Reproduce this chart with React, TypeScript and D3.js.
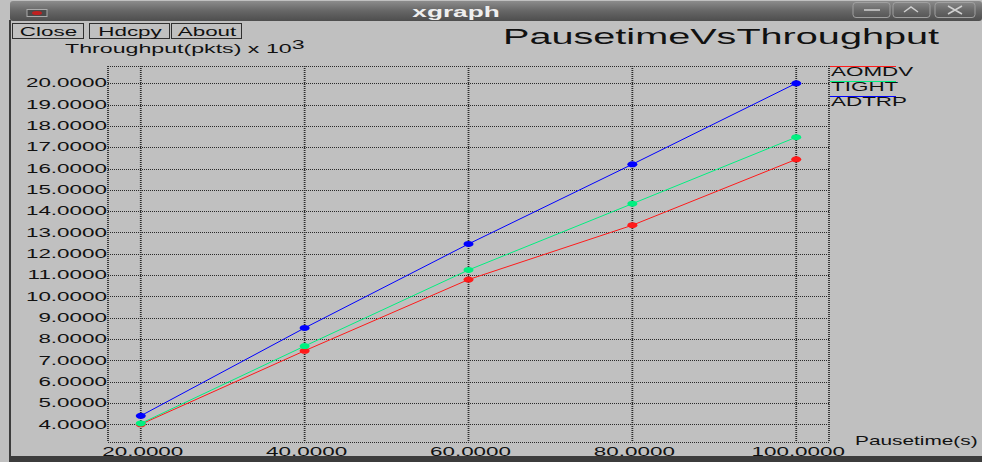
import React from "react";
import * as d3 from "d3";

const pauseTimes = [20, 40, 60, 80, 100];
const aomdv = [4.0, 7.45, 10.79, 13.34, 16.43];
const tight = [4.04, 7.67, 11.24, 14.35, 17.47];
const adtrp = [4.4, 8.52, 12.46, 16.2, 20.0];
const seriesNames = ["AOMDV", "TIGHT", "ADTRP"];
const seriesColors = ["#ff1a1a", "#00f080", "#0000ff"];
const yTicks = d3.range(4, 21, 1);
const xTicks = [20, 40, 60, 80, 100];
const titleText = "PausetimeVsThroughput";
const yLabel = "Throughput(pkts) x 10";
const xLabel = "Pausetime(s)";
const buttons = ["Close", "Hdcpy", "About"];

const W = 982;
const H = 462;
const SX = 1.87;
const FONT = "'Liberation Sans', Arial, sans-serif";

function WText(props: any) {
  const { x, y, size = 12, anchor = "start", weight = "normal", fill = "#111", sx = SX, children } = props;
  return (
    <g transform={`translate(${x},${y}) scale(${sx},1)`}>
      <text fontFamily={FONT} fontSize={size} fontWeight={weight} textAnchor={anchor} fill={fill}>
        {children}
      </text>
    </g>
  );
}

export default function App() {
  const left = 108, right = 829, top = 66, bottom = 442;
  const x = d3.scaleLinear().domain([16, 104]).range([left, right]);
  const y = d3.scaleLinear().domain([3.17, 20.81]).range([bottom, top]);
  const series = [aomdv, tight, adtrp];
  const line = d3
    .line<number>()
    .x((_, i) => x(pauseTimes[i]))
    .y((d) => y(d));
  const fmt = d3.format(".4f");
  const grid = "#2a2a2a";
  const dash = "1 1";
  const btnX = [[12, 83], [89, 169], [171, 241]];

  return (
    <svg width={W} height={H} style={{ position: "absolute", left: 0, top: 0 }}>
      <defs>
        <linearGradient id="tb" x1="0" y1="0" x2="0" y2="1">
          <stop offset="0" stopColor="#8c8c8c" />
          <stop offset="0.5" stopColor="#666" />
          <stop offset="1" stopColor="#4e4e4e" />
        </linearGradient>
      </defs>
      <rect x={0} y={0} width={W} height={H} fill="#c0c0c0" />
      {/* title bar */}
      <rect x={10} y={1} width={W - 10} height={20} rx={3} fill="url(#tb)" />
      <rect x={27} y={9.5} width={20} height={7} fill="#4a4a4a" stroke="#aaa" strokeWidth={1} />
      <ellipse cx={37} cy={13} rx={5} ry={2} fill="#c02020" />
      <WText x={456} y={17} size={14} weight="bold" anchor="middle" fill="#eeeeee">xgraph</WText>
      {[[853, 890], [893, 930], [935, 975]].map(([a, b], i) => (
        <rect key={i} x={a} y={2.5} width={b - a} height={15} rx={3} fill="none" stroke="#a0a0a0" />
      ))}
      <line x1={864} x2={880} y1={10} y2={10} stroke="#d0d0d0" strokeWidth={1.5} />
      <path d="M904,12 L911,7 L918,12" fill="none" stroke="#d0d0d0" strokeWidth={1.5} />
      <path d="M948,6 L962,14 M948,14 L962,6" fill="none" stroke="#d0d0d0" strokeWidth={1.5} />
      {/* window frame */}
      <rect x={9} y={20} width={2} height={437} fill="#3c3c3c" />
      <rect x={9} y={456} width={W - 9} height={6} fill="#3c3c3c" />
      {/* buttons */}
      {buttons.map((b, i) => (
        <g key={b}>
          <rect x={btnX[i][0] + 0.5} y={23.5} width={btnX[i][1] - btnX[i][0]} height={15} fill="none" stroke="#303030" />
          <WText x={(btnX[i][0] + btnX[i][1]) / 2 + 1} y={35.5} size={12} anchor="middle">{b}</WText>
        </g>
      ))}
      {/* titles */}
      <WText x={503} y={44} size={21.2}>{titleText}</WText>
      <g transform={`translate(65,52.5) scale(${SX},1)`}>
        <text fontFamily={FONT} fontSize={12.4} fill="#111">
          {yLabel}
          <tspan dy={-3.5}>3</tspan>
        </text>
      </g>
      <WText x={855} y={445} size={12.4} sx={1.68}>{xLabel}</WText>
      {/* grid */}
      {yTicks.map((t) => (
        <line key={"h" + t} x1={left} x2={right} y1={Math.round(y(t)) + 0.5} y2={Math.round(y(t)) + 0.5} stroke={grid} strokeDasharray={dash} />
      ))}
      {xTicks.map((t) => (
        <line key={"v" + t} x1={x(t)} x2={x(t)} y1={top} y2={bottom} stroke={grid} strokeWidth={1.8} strokeDasharray={dash} />
      ))}
      <line x1={left} x2={right} y1={top + 0.5} y2={top + 0.5} stroke={grid} strokeDasharray={dash} />
      <line x1={left} x2={right} y1={bottom + 0.5} y2={bottom + 0.5} stroke={grid} strokeDasharray={dash} />
      <line x1={left} x2={left} y1={top} y2={bottom} stroke={grid} strokeWidth={1.8} strokeDasharray={dash} />
      <line x1={right} x2={right} y1={top} y2={bottom} stroke={grid} strokeWidth={1.8} strokeDasharray={dash} />
      {/* tick labels */}
      {yTicks.map((t) => (
        <WText key={"yl" + t} x={107} y={y(t) + 4.2} size={12} anchor="end">{fmt(t)}</WText>
      ))}
      {xTicks.map((t) => (
        <WText key={"xl" + t} x={x(t) + 2} y={456} size={12} anchor="middle">{fmt(t)}</WText>
      ))}
      {/* data */}
      {series.map((s, k) => (
        <g key={"s" + k}>
          <path d={line(s) || ""} fill="none" stroke={seriesColors[k]} strokeWidth={1} />
          {s.map((v, i) => (
            <ellipse key={i} cx={x(pauseTimes[i])} cy={y(v)} rx={5} ry={3} fill={seriesColors[k]} />
          ))}
        </g>
      ))}
      {/* legend */}
      {seriesNames.map((n, k) => (
        <g key={n}>
          <line x1={830} x2={896} y1={66.5 + k * 15} y2={66.5 + k * 15} stroke={seriesColors[k]} strokeWidth={1.2} />
          <WText x={831} y={75.5 + k * 15} size={12}>{n}</WText>
        </g>
      ))}
    </svg>
  );
}
